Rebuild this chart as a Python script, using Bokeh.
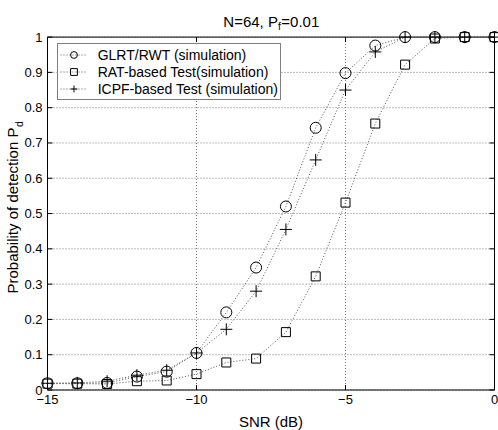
import math
from bokeh.plotting import figure
from bokeh.models import Range1d, Label
from bokeh.core.properties import value
from bokeh.embed import file_html
from bokeh.resources import INLINE

# ---- data ----
snr_db = [-15, -14, -13, -12, -11, -10, -9, -8, -7, -6, -5, -4, -3, -2, -1, 0]
glrt_rwt = [0.019, 0.019, 0.020, 0.038, 0.052, 0.105, 0.220, 0.347, 0.520, 0.743,
            0.898, 0.976, 1.000, 1.000, 1.000, 1.000]
rat_based = [0.018, 0.018, 0.017, 0.025, 0.027, 0.045, 0.078, 0.089, 0.164, 0.322,
             0.531, 0.755, 0.922, 0.996, 1.000, 1.000]
icpf_based = [0.019, 0.020, 0.025, 0.042, 0.056, 0.105, 0.172, 0.280, 0.455, 0.652,
              0.850, 0.958, 1.000, 1.000, 1.000, 1.000]

series_labels = ["GLRT/RWT (simulation)", "RAT-based Test(simulation)",
                 "ICPF-based Test (simulation)"]

x_ticks = [-15, -10, -5, 0]
x_tick_labels = ["\u221215", "\u221210", "\u22125", "0"]
y_ticks = [0, 0.1, 0.2, 0.3, 0.4, 0.5, 0.6, 0.7, 0.8, 0.9, 1]
y_tick_labels = ["0", "0.1", "0.2", "0.3", "0.4", "0.5", "0.6", "0.7", "0.8", "0.9", "1"]

title_main = "N=64, P"
title_sub = "f"
title_tail = "=0.01"
xlabel = "SNR (dB)"
ylabel_main = "Probability of detection P"
ylabel_sub = "d"

# ---- layout (pixels) ----
FONT = "Liberation Sans"
W, H = 498, 430
AX_L, AX_R, AX_T, AX_B = 47.0, 494.0, 36.6, 389.5   # axes box in canvas pixels
xmin, xmax = x_ticks[0], x_ticks[-1]
ymin, ymax = y_ticks[0], y_ticks[-1]
kx = (AX_R - AX_L) / (xmax - xmin)
ky = (AX_B - AX_T) / (ymax - ymin)
x_range = Range1d(xmin - AX_L / kx, xmax + (W - AX_R) / kx)
y_range = Range1d(ymin - (H - AX_B) / ky, ymax + AX_T / ky)

p = figure(width=W, height=H, output_backend="svg", toolbar_location=None,
           x_range=x_range, y_range=y_range, x_axis_type=None, y_axis_type=None,
           title=None, min_border=0)
p.min_border_left = p.min_border_right = p.min_border_top = p.min_border_bottom = 0
p.outline_line_color = None
p.background_fill_color = "white"
p.border_fill_color = "white"
p.xgrid.visible = False
p.ygrid.visible = False

# grid (dotted)
grid_kw = dict(line_color="#7a7a7a", line_dash="1 2", line_width=1)
p.segment(x0=x_ticks, y0=[ymin] * len(x_ticks), x1=x_ticks, y1=[ymax] * len(x_ticks),
          **grid_kw)
p.segment(x0=[xmin] * len(y_ticks), y0=y_ticks, x1=[xmax] * len(y_ticks), y1=y_ticks,
          **grid_kw)

# axes box
p.quad(left=[xmin], right=[xmax], bottom=[ymin], top=[ymax], fill_color=None,
       line_color="black", line_width=1)

# inward ticks on all four sides
TL = 5
tick_kw = dict(length=TL, length_units="screen", line_color="black", line_width=1)
p.ray(x=[xmin] * len(y_ticks), y=y_ticks, angle=0, **tick_kw)
p.ray(x=[xmax] * len(y_ticks), y=y_ticks, angle=math.pi, **tick_kw)
p.ray(x=x_ticks, y=[ymin] * len(x_ticks), angle=math.pi / 2, **tick_kw)
p.ray(x=x_ticks, y=[ymax] * len(x_ticks), angle=-math.pi / 2, **tick_kw)

# tick labels
p.text(x=x_ticks, y=[ymin] * len(x_ticks), text=x_tick_labels, y_offset=5,
       text_align="center", text_baseline="top", text_font=value(FONT),
       text_font_size=value("13px"), text_color="black")
p.text(x=[xmin] * len(y_ticks), y=y_ticks, text=y_tick_labels, x_offset=-5,
       text_align="right", text_baseline="middle", text_font=value(FONT),
       text_font_size=value("13px"), text_color="black")

# data series
line_color = "#555555"
markers = [("circle", 11), ("square", 9), ("cross", 12)]
for ys, lab, (mk, sz) in zip([glrt_rwt, rat_based, icpf_based], series_labels, markers):
    p.line(snr_db, ys, line_color=line_color, line_dash="1 2", line_width=1,
           legend_label=lab)
    p.scatter(snr_db, ys, marker=mk, size=sz, fill_color=None, line_color="black",
              line_width=1, legend_label=lab)

lg = p.legend[0]
lg.location = (56.7, H - 100.0)
lg.margin = 0
lg.padding = 2
lg.spacing = 0
lg.glyph_width = 27
lg.glyph_height = 17
lg.label_height = 17
lg.label_standoff = 11
lg.label_text_font = FONT
lg.label_text_font_size = "14px"
lg.label_text_color = "black"
lg.label_text_baseline = "middle"
lg.border_line_color = "black"
lg.border_line_width = 1
lg.background_fill_color = "white"
lg.background_fill_alpha = 1

# ---- title and axis labels (with subscripts) ----
cx = (AX_L + AX_R) / 2.0
t0 = cx - 47.7
lab_kw = dict(x_units="screen", y_units="screen", text_font=FONT, text_color="black",
              text_baseline="alphabetic")
p.add_layout(Label(x=t0, y=H - 20.7, text=title_main, text_font_size="15px",
                   text_align="left", **lab_kw))
p.add_layout(Label(x=t0 + 54.6, y=H - 25.5, text=title_sub, text_font_size="10.5px",
                   text_align="left", **lab_kw))
p.add_layout(Label(x=t0 + 58.0, y=H - 20.7, text=title_tail, text_font_size="15px",
                   text_align="left", **lab_kw))

p.add_layout(Label(x=cx, y=H - 421.0, text=xlabel, text_font_size="15px",
                   text_align="center", **lab_kw))

y0 = H - 293.0
p.add_layout(Label(x=12.0, y=y0, angle=math.pi / 2, text=ylabel_main,
                   text_font_size="15px", text_align="left", **lab_kw))
p.add_layout(Label(x=18.0, y=y0 + 166.5, angle=math.pi / 2, text=ylabel_sub,
                   text_font_size="10.5px", text_align="left", **lab_kw))

open("out.html", "w").write(file_html(p, INLINE))
